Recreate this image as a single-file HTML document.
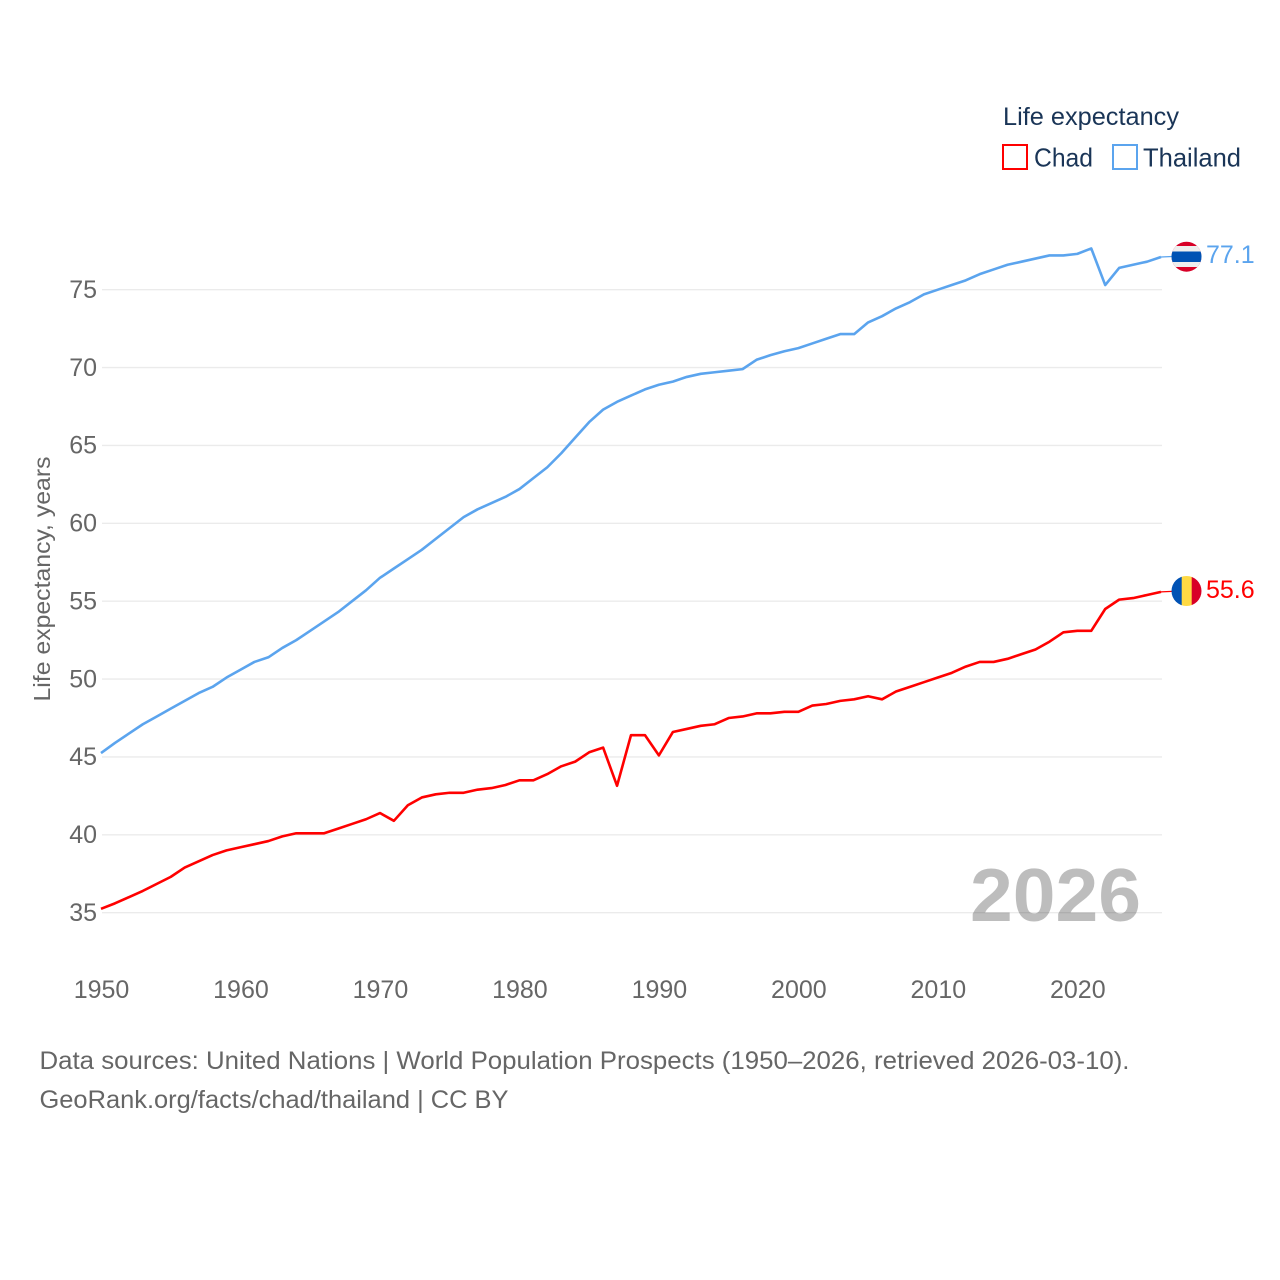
<!DOCTYPE html>
<html lang="en">
<head>
<meta charset="utf-8">
<title>Life expectancy: Chad and Thailand</title>
<style>
html,body{margin:0;padding:0;background:#fff;}
svg{display:block;font-family:"Liberation Sans",sans-serif;}
</style>
</head>
<body>
<svg id="chart" xmlns="http://www.w3.org/2000/svg" width="1280" height="1280" viewBox="0 0 1280 1280">
  <rect x="0" y="0" width="1280" height="1280" fill="#ffffff"/>
  <g id="grid"></g>
  <g id="yticks"></g>
  <g id="xticks"></g>
  <text transform="translate(50,579) rotate(-90)" text-anchor="middle" font-size="23.5" fill="#666666" textLength="245" lengthAdjust="spacingAndGlyphs">Life expectancy, years</text>
  <text x="970" y="921" font-size="75" font-weight="700" fill="#000000" fill-opacity="0.26" textLength="171" lengthAdjust="spacingAndGlyphs">2026</text>
  <g id="series"></g>
  <defs>
    <clipPath id="clip-th"><circle cx="1186.5" cy="256.7" r="15"/></clipPath>
    <clipPath id="clip-td"><circle cx="1186.5" cy="591" r="15"/></clipPath>
  </defs>
  <g clip-path="url(#clip-th)">
    <rect x="1171" y="241" width="31" height="31" fill="#d80027"/>
    <rect x="1171" y="246" width="31" height="21" fill="#eeeeee"/>
    <rect x="1171" y="251.5" width="31" height="10.5" fill="#0052b4"/>
  </g>
  <g clip-path="url(#clip-td)">
    <rect x="1171" y="575" width="11" height="32" fill="#0052b4"/>
    <rect x="1181.7" y="575" width="10.3" height="32" fill="#ffda44"/>
    <rect x="1191.7" y="575" width="11" height="32" fill="#d80027"/>
  </g>
  <text id="label-th" x="1206" y="263" font-size="25" fill="#5ba4ee"></text>
  <text id="label-td" x="1206" y="598" font-size="25" fill="#ff0000"></text>
  <g>
    <text x="1003" y="125" font-size="25" fill="#1a3557" textLength="176" lengthAdjust="spacingAndGlyphs">Life expectancy</text>
    <g>
      <rect x="1003" y="145" width="24" height="24" fill="#ffffff" stroke="#ff0000" stroke-width="2"/>
      <text x="1034" y="166.5" font-size="26" fill="#1a3557" textLength="59" lengthAdjust="spacingAndGlyphs">Chad</text>
    </g>
    <g>
      <rect x="1113" y="145" width="24" height="24" fill="#ffffff" stroke="#5ba4ee" stroke-width="2"/>
      <text x="1143" y="166.5" font-size="26" fill="#1a3557" textLength="98" lengthAdjust="spacingAndGlyphs">Thailand</text>
    </g>
  </g>
  <g>
    <text x="39.5" y="1069" font-size="25" fill="#666666" textLength="1090" lengthAdjust="spacingAndGlyphs">Data sources: United Nations | World Population Prospects (1950–2026, retrieved 2026-03-10).</text>
    <text x="39.5" y="1108" font-size="25" fill="#666666" textLength="469" lengthAdjust="spacingAndGlyphs">GeoRank.org/facts/chad/thailand | CC BY</text>
  </g>
</svg>
<script>
const years = [1950,1951,1952,1953,1954,1955,1956,1957,1958,1959,1960,1961,1962,1963,1964,1965,1966,1967,1968,1969,1970,1971,1972,1973,1974,1975,1976,1977,1978,1979,1980,1981,1982,1983,1984,1985,1986,1987,1988,1989,1990,1991,1992,1993,1994,1995,1996,1997,1998,1999,2000,2001,2002,2003,2004,2005,2006,2007,2008,2009,2010,2011,2012,2013,2014,2015,2016,2017,2018,2019,2020,2021,2022,2023,2024,2025,2026];
const chadValues = [35.25,35.6,36,36.4,36.85,37.3,37.9,38.3,38.7,39.0,39.2,39.4,39.6,39.9,40.1,40.1,40.1,40.4,40.7,41.0,41.4,40.9,41.9,42.4,42.6,42.7,42.7,42.9,43.0,43.2,43.5,43.5,43.9,44.4,44.7,45.3,45.6,43.15,46.4,46.4,45.1,46.6,46.8,47.0,47.1,47.5,47.6,47.8,47.8,47.9,47.9,48.3,48.4,48.6,48.7,48.9,48.7,49.2,49.5,49.8,50.1,50.4,50.8,51.1,51.1,51.3,51.6,51.9,52.4,53.0,53.1,53.1,54.5,55.1,55.2,55.4,55.6];
const thailandValues = [45.25,45.9,46.5,47.1,47.6,48.1,48.6,49.1,49.5,50.1,50.6,51.1,51.4,52.0,52.5,53.1,53.7,54.3,55.0,55.7,56.5,57.1,57.7,58.3,59.0,59.7,60.4,60.9,61.3,61.7,62.2,62.9,63.6,64.5,65.5,66.5,67.3,67.8,68.2,68.6,68.9,69.1,69.4,69.6,69.7,69.8,69.9,70.5,70.8,71.05,71.25,71.55,71.85,72.15,72.15,72.9,73.3,73.8,74.2,74.7,75.0,75.3,75.6,76.0,76.3,76.6,76.8,77.0,77.2,77.2,77.3,77.65,75.3,76.4,76.6,76.8,77.1];
const yTickLabels = [35,40,45,50,55,60,65,70,75];
const xTickLabels = [1950,1960,1970,1980,1990,2000,2010,2020];

const NS = 'http://www.w3.org/2000/svg';
function xScale(year){ return 101 + (year - 1950) * (1161 - 101) / 76; }
function yScale(v){ return 912.7 - (v - 35) * (912.7 - 289.7) / 40; }
function mk(tag, parent, attrs){
  const el = document.createElementNS(NS, tag);
  for (const k in attrs) el.setAttribute(k, attrs[k]);
  parent.appendChild(el);
  return el;
}
const grid = document.getElementById('grid');
const yt = document.getElementById('yticks');
const xt = document.getElementById('xticks');
const series = document.getElementById('series');

yTickLabels.forEach(function(v){
  const line = mk('line', grid, {x1:102, x2:1162, y1:yScale(v), y2:yScale(v), stroke:'#ebebeb', 'stroke-width':1.3});
  
  
  const t = mk('text', yt, {x:97, y:yScale(v) + 8.2, 'text-anchor':'end', 'font-size':25, fill:'#666666'});
  
  
  t.textContent = v;
});
xTickLabels.forEach(function(y){
  const t = mk('text', xt, {x:xScale(y) + 0.5, y:998, 'text-anchor':'middle', 'font-size':25, fill:'#666666'});
  
  
  t.textContent = y;
});
function pathFor(vals){
  return vals.map(function(v, i){
    return (i ? 'L' : 'M') + xScale(years[i]).toFixed(2) + ' ' + yScale(v).toFixed(2);
  }).join(' ');
}
const chadLine = mk('path', series, {d:pathFor(chadValues), fill:'none', stroke:'#ff0000', 'stroke-width':2.6, 'stroke-linejoin':'round'});


const thLine = mk('path', series, {d:pathFor(thailandValues), fill:'none', stroke:'#5ba4ee', 'stroke-width':2.6, 'stroke-linejoin':'round'});



const lastTd = chadValues[chadValues.length - 1];
const lastTh = thailandValues[thailandValues.length - 1];
const connTd = mk('line', series, {x1:xScale(2026), y1:yScale(lastTd), x2:1172, y2:yScale(lastTd) - 0.5, stroke:'#ff0000', 'stroke-width':1.2});


const connTh = mk('line', series, {x1:xScale(2026), y1:yScale(lastTh), x2:1172, y2:yScale(lastTh) - 0.5, stroke:'#5ba4ee', 'stroke-width':1.2});



document.getElementById('label-td').textContent = lastTd.toFixed(1);
document.getElementById('label-th').textContent = lastTh.toFixed(1);
</script>
</body>
</html>
